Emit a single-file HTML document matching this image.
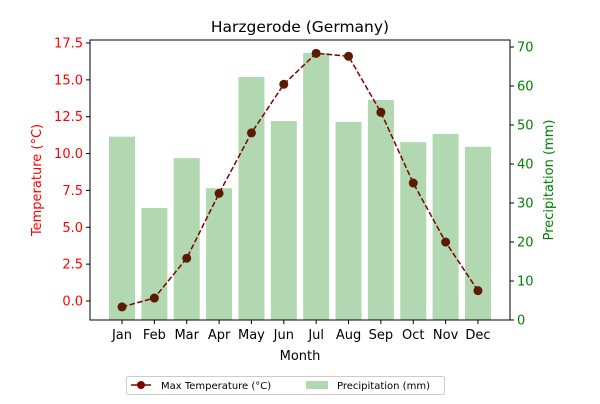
<!DOCTYPE html>
<html><head><meta charset="utf-8"><style>
body{margin:0;background:#fff;font-family:"DejaVu Sans","Liberation Sans",sans-serif}
svg text{font-family:"DejaVu Sans","Liberation Sans",sans-serif}
</style></head><body>
<svg id="c" width="600" height="400" xmlns="http://www.w3.org/2000/svg"></svg>
<script>
const months=["Jan","Feb","Mar","Apr","May","Jun","Jul","Aug","Sep","Oct","Nov","Dec"];
const temps=[-0.4,0.2,2.9,7.3,11.4,14.7,16.8,16.6,12.8,8.0,4.0,0.7];
const precip=[47,28.7,41.5,33.8,62.3,51,68.5,50.8,56.4,45.6,47.7,44.4];
const tTicks=[0,2.5,5,7.5,10,12.5,15,17.5];
const pTicks=[0,10,20,30,40,50,60,70];
const L=90,R=510,T=40,B=320;
const yT=v=>301-(v)*14.743;
const yP=v=>320-v*3.9;
const xM=i=>122+i*32.36;
const svg=document.getElementById('c');const NS="http://www.w3.org/2000/svg";
function mk(t,a,txt){const e=document.createElementNS(NS,t);for(const k in a)e.setAttribute(k,a[k]);if(txt!==undefined)e.textContent=txt;svg.appendChild(e);return e;}
precip.forEach((v,i)=>{const e=mk('rect',{x:xM(i)-13,y:yP(v),width:26,height:B-yP(v),fill:'#b1d8b1'});

});
const pl=mk('polyline',{points:temps.map((v,i)=>xM(i)+','+yT(v)).join(' '),fill:'none',stroke:'#800000','stroke-width':1.5,'stroke-dasharray':'5.5,2.4'});


temps.forEach((v,i)=>{const e=mk('circle',{cx:xM(i),cy:yT(v),r:4.5,fill:'#5c1a00'});

});
const fr=mk('rect',{x:L,y:T,width:R-L,height:B-T,fill:'none',stroke:'#000','stroke-width':1});


tTicks.forEach(v=>{const y=yT(v);mk('line',{x1:L-4,x2:L,y1:y,y2:y,stroke:'#000'});
const e=mk('text',{x:L-7,y:y+4.5,'text-anchor':'end','font-size':13,fill:'red'},v.toFixed(1));

});
pTicks.forEach(v=>{const y=yP(v);mk('line',{x1:R,x2:R+4,y1:y,y2:y,stroke:'#000'});
const e=mk('text',{x:R+7,y:y+4.5,'font-size':13,fill:'green'},String(v));

});
months.forEach((m,i)=>{mk('line',{x1:xM(i),x2:xM(i),y1:B,y2:B+4,stroke:'#000'});
const e=mk('text',{x:xM(i),y:B+19,'text-anchor':'middle','font-size':13},m);

});
</script>
<svg width="600" height="400" style="position:absolute;left:0;top:0" xmlns="http://www.w3.org/2000/svg">
<text x="300" y="32" text-anchor="middle" font-size="15.5">Harzgerode (Germany)</text>
<text x="300" y="360" text-anchor="middle" font-size="13">Month</text>
<text transform="translate(41,180) rotate(-90)" text-anchor="middle" font-size="13" fill="red">Temperature (°C)</text>
<text transform="translate(553,180) rotate(-90)" text-anchor="middle" font-size="13" fill="green">Precipitation (mm)</text>
<g>
<rect x="126.5" y="376.5" width="318" height="18" rx="2" fill="#fff" stroke="#ccc"/>
<line x1="131" x2="151" y1="385" y2="385" stroke="#800000" stroke-width="1.5"/>
<circle cx="141" cy="385" r="4" fill="#800000"/>
<text x="161" y="389" font-size="10">Max Temperature (°C)</text>
<rect x="306" y="381" width="22" height="8" fill="#b1d8b1"/>
<text x="337" y="389" font-size="10">Precipitation (mm)</text>
</g>
</svg>
</body></html>
